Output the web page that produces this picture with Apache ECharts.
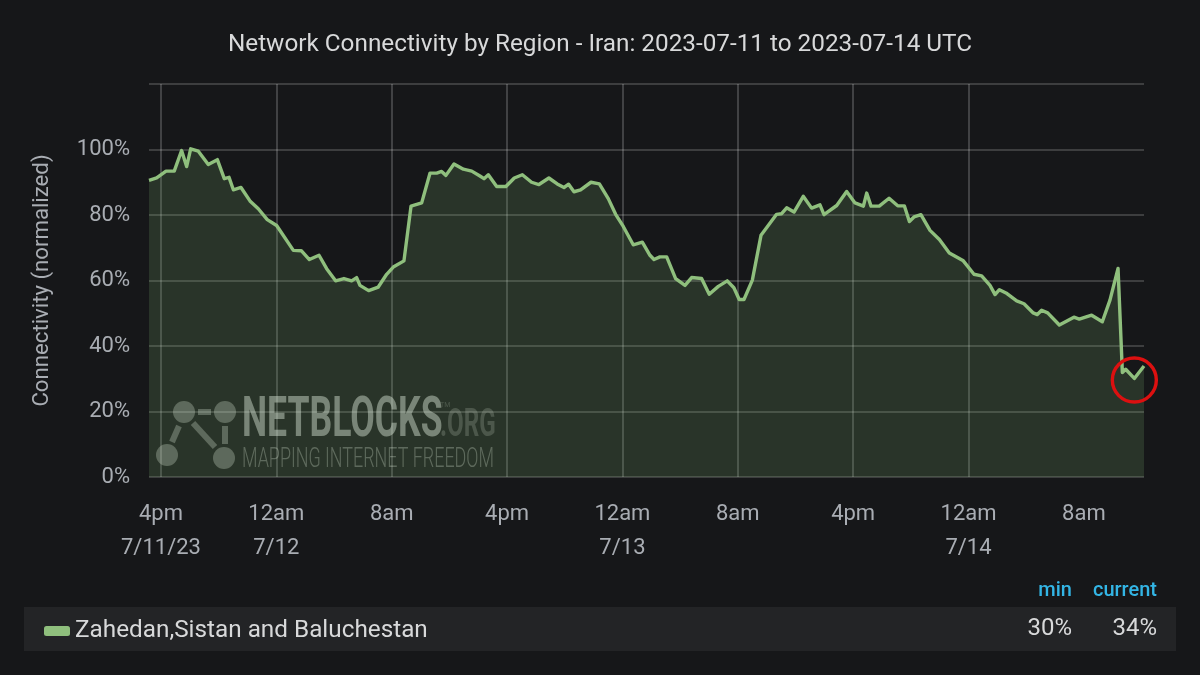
<!DOCTYPE html>
<html><head><meta charset="utf-8">
<style>html,body{margin:0;padding:0;background:#161719}#c{width:1200px;height:675px}</style>
<script src="https://cdn.jsdelivr.net/npm/echarts@6/dist/echarts.min.js"></script>
</head><body><div id="c"></div>
<script>
const titleText = 'Network Connectivity by Region - Iran: 2023-07-11 to 2023-07-14 UTC';
const seriesName = 'Zahedan,Sistan and Baluchestan';
// hours since 4pm on 7/11/23
const hoursSinceStart = [-0.83,-0.30,0.35,0.92,1.43,1.78,2.06,2.59,3.28,3.91,4.39,4.72,5.02,5.55,6.17,6.75,7.37,8.02,9.18,9.73,10.29,10.96,11.49,12.11,12.69,13.22,13.57,13.80,14.40,15.07,15.65,16.11,16.85,17.34,18.08,18.66,19.12,19.46,19.76,20.32,20.97,21.55,22.12,22.40,22.70,23.28,23.92,24.5,25.06,25.70,26.21,26.9,27.48,27.95,28.27,28.64,29.10,29.82,30.40,31.02,31.53,32.06,32.75,33.38,33.91,34.19,34.60,35.07,35.69,36.34,36.80,37.49,38.02,38.65,39.27,39.73,40.10,40.43,41.01,41.61,42.69,43.04,43.39,43.90,44.54,45.12,45.70,45.98,46.86,47.55,48.13,48.71,48.94,49.24,49.81,50.49,51.09,51.55,51.90,52.22,52.70,53.33,53.98,54.67,55.64,56.38,56.91,57.49,57.84,58.14,58.60,59.34,59.85,60.49,60.77,61.07,61.49,62.30,63.31,63.68,64.54,65.28,65.81,66.37,66.67,66.90,67.50,68.17];
const connectivity = [90.6,91.3,93.4,93.4,99.7,94.8,100.2,99.5,95.4,96.9,91.1,91.5,87.7,88.4,84.3,81.9,78.6,76.8,69.2,69.1,66.4,67.7,63.6,59.9,60.6,59.9,60.9,58.5,56.9,58.0,61.9,64.1,66.0,82.7,83.7,92.8,92.8,93.3,92.1,95.6,94.0,93.4,91.9,91.1,92.3,88.7,88.7,91.3,92.3,90.0,89.3,91.3,89.5,88.4,89.4,87.1,87.7,90.0,89.5,85.0,80.2,76.5,70.9,71.7,67.7,66.4,67.2,67.2,60.6,58.5,60.9,60.6,55.8,58.2,59.9,57.8,54.2,54.2,60.1,73.8,80.2,80.4,82.2,80.9,85.7,82.1,83.1,80.1,82.9,87.2,83.7,82.7,86.7,82.7,82.7,85.1,82.8,82.8,78.0,79.4,80.1,75.3,72.5,68.4,66.0,61.9,61.4,58.5,55.7,57.2,56.2,53.8,52.9,50.1,49.6,50.9,50.1,46.4,48.8,48.2,49.4,47.4,54.0,63.7,31.9,32.9,30.1,33.9];
const tickHours = [0,8,16,24,32,40,48,56,64];
const tickLabels = ['4pm\n7/11/23','12am\n7/12','8am','4pm','12am\n7/13','8am','4pm','12am\n7/14','8am'];
const legendStats = ['30%','34%'];
const statHeads = ['min','current'];
const circledPoint = [67.5, 29.6];

const FONT = 'Roboto';
const chart = echarts.init(document.getElementById('c'), null, {renderer:'canvas'});
const wm = 'rgba(200,205,200,0.36)';
const wmDim = 'rgba(200,205,200,0.24)';
const wmText = 'rgba(210,215,210,0.52)';
chart.setOption({
  animation:false,
  backgroundColor:'#161719',
  textStyle:{fontFamily:FONT},
  title:{text:titleText,left:'center',top:28,textStyle:{color:'#d8d9da',fontFamily:FONT,fontSize:24.3,fontWeight:400}},
  grid:{left:149,right:56,top:84,bottom:198},
  xAxis:{type:'value',min:-0.83,max:68.17,
    axisLine:{show:false},
    axisTick:{show:false,customValues:tickHours},
    splitLine:{show:true,showMinLine:true,showMaxLine:false,lineStyle:{color:'rgba(255,255,255,0.19)',width:2}},
    axisLabel:{customValues:tickHours,color:'#a9adb3',fontSize:22,fontFamily:FONT,lineHeight:34,margin:20,hideOverlap:false,
      formatter:(v)=>{const i=tickHours.indexOf(v);return i>=0?tickLabels[i]:'';}}},
  yAxis:{type:'value',min:0,max:120,interval:20,
    name:'Connectivity (normalized)',nameLocation:'middle',nameGap:96,
    nameTextStyle:{color:'#a9adb3',fontSize:22.2,fontFamily:FONT},
    axisLine:{show:false},axisTick:{show:false},
    splitLine:{show:true,lineStyle:{color:'rgba(255,255,255,0.17)',width:2}},
    axisLabel:{color:'#a9adb3',fontSize:22,fontFamily:FONT,margin:19,formatter:v=>v>100?'':v+'%'}},
  legend:{left:39,top:614,itemWidth:26,itemHeight:10,itemGap:8,
    icon:'roundRect',textStyle:{color:'#d8d9da',fontSize:24.3,fontFamily:FONT},data:[seriesName]},
  series:[{name:seriesName,type:'line',showSymbol:false,symbol:'none',smooth:false,
    data:hoursSinceStart.map((h,i)=>[h,connectivity[i]]),
    lineStyle:{color:'#8fbf7d',width:3.4,join:'round'},
    itemStyle:{color:'#8fbf7d'},
    areaStyle:{color:'rgba(126,178,109,0.27)'},
    markPoint:{silent:true,symbol:'circle',symbolSize:44,
      itemStyle:{color:'rgba(0,0,0,0)',borderColor:'#dc1010',borderWidth:3.4},
      label:{show:false},
      data:[{coord:circledPoint}]}}],
  graphic:[
    {type:'rect',z:-1,shape:{x:24,y:607,width:1152,height:44},style:{fill:'#232426'}},
    {type:'text',x:1072,y:591,style:{text:statHeads[0],fill:'#33b5e5',font:'500 20px Roboto',align:'right',verticalAlign:'middle'}},
    {type:'text',x:1157,y:591,style:{text:statHeads[1],fill:'#33b5e5',font:'500 20px Roboto',align:'right',verticalAlign:'middle'}},
    {type:'text',x:1072,y:629,style:{text:legendStats[0],fill:'#d8d9da',font:'400 24px Roboto',align:'right',verticalAlign:'middle'}},
    {type:'text',x:1157,y:629,style:{text:legendStats[1],fill:'#d8d9da',font:'400 24px Roboto',align:'right',verticalAlign:'middle'}},
    {type:'group',z:50,silent:true,children:[
      {type:'circle',shape:{cx:184,cy:412,r:11},style:{fill:wm}},
      {type:'circle',shape:{cx:225,cy:412,r:11},style:{fill:wm}},
      {type:'circle',shape:{cx:167,cy:455,r:11},style:{fill:wm}},
      {type:'circle',shape:{cx:224,cy:458,r:11},style:{fill:wm}},
      {type:'line',shape:{x1:198,y1:412,x2:211,y2:412},style:{stroke:wm,lineWidth:6}},
      {type:'line',shape:{x1:179,y1:426,x2:172,y2:442},style:{stroke:wm,lineWidth:6}},
      {type:'line',shape:{x1:193,y1:423,x2:215,y2:447},style:{stroke:wm,lineWidth:6}},
      {type:'line',shape:{x1:225,y1:426,x2:225,y2:444},style:{stroke:wm,lineWidth:6}},
      {type:'text',x:242,y:394,scaleX:0.635,style:{text:'NETBLOCKS',fill:wmText,font:'700 56px Roboto'}},
      {type:'text',x:440,y:407,scaleX:0.62,style:{text:'.ORG',fill:wmDim,font:'700 39px Roboto'}},
      {type:'text',x:242,y:446,scaleX:0.64,style:{text:'MAPPING INTERNET FREEDOM',fill:wm,font:'300 28px Roboto'}},
      {type:'text',x:440,y:402,style:{text:'TM',fill:wmDim,font:'400 7px Roboto'}}
    ]}
  ]
});
</script></body></html>
